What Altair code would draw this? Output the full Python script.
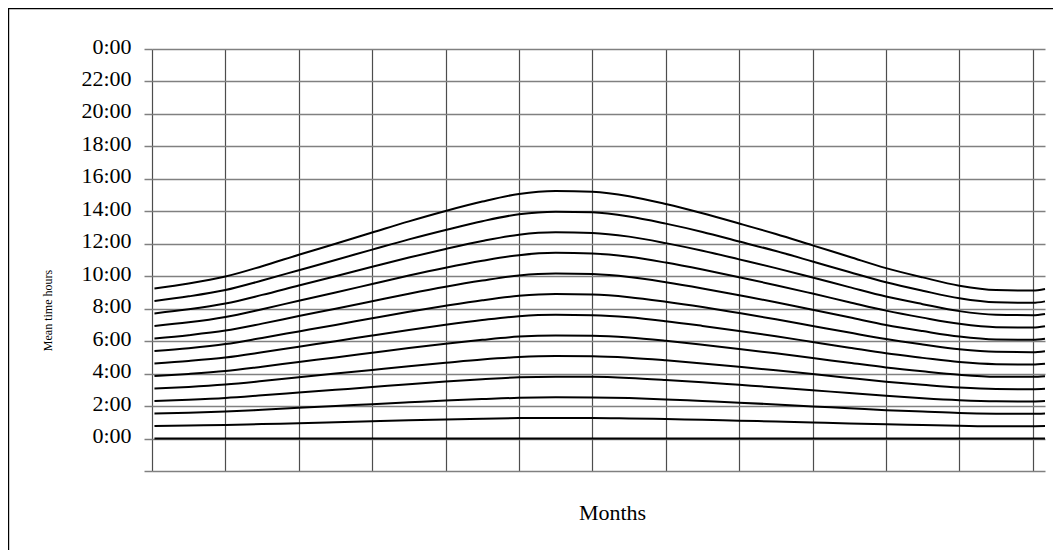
import altair as alt
import pandas as pd

# Day of year at which each curve was read
days = [1, 15, 30, 45, 60, 75, 90, 105, 120, 135, 150, 165, 180,
        195, 210, 225, 240, 255, 270, 285, 300, 315, 330, 345, 360, 365]

# Curves, bottom to top (hours)
c00 = [0.0] * 26
c01 = [0.77, 0.80, 0.83, 0.89, 0.94, 1.00, 1.06, 1.12, 1.17, 1.22, 1.26, 1.27, 1.27,
       1.24, 1.20, 1.16, 1.10, 1.05, 0.99, 0.93, 0.88, 0.83, 0.79, 0.76, 0.76, 0.77]
c02 = [1.54, 1.59, 1.66, 1.77, 1.89, 2.00, 2.12, 2.23, 2.34, 2.43, 2.51, 2.54, 2.53,
       2.49, 2.41, 2.31, 2.21, 2.10, 1.98, 1.87, 1.75, 1.66, 1.57, 1.53, 1.52, 1.54]
c03 = [2.31, 2.39, 2.50, 2.66, 2.83, 3.00, 3.17, 3.35, 3.51, 3.65, 3.77, 3.81, 3.80,
       3.73, 3.61, 3.47, 3.31, 3.15, 2.98, 2.80, 2.63, 2.48, 2.36, 2.29, 2.28, 2.31]
c04 = [3.08, 3.18, 3.33, 3.54, 3.77, 4.00, 4.23, 4.46, 4.67, 4.87, 5.02, 5.08, 5.07,
       4.98, 4.82, 4.63, 4.42, 4.20, 3.97, 3.73, 3.50, 3.31, 3.14, 3.05, 3.04, 3.07]
c05 = [3.85, 3.98, 4.16, 4.43, 4.72, 5.00, 5.29, 5.58, 5.84, 6.08, 6.28, 6.35, 6.33,
       6.22, 6.02, 5.78, 5.52, 5.25, 4.96, 4.67, 4.38, 4.14, 3.93, 3.81, 3.80, 3.84]
c06 = [4.63, 4.78, 4.99, 5.31, 5.66, 6.00, 6.35, 6.69, 7.01, 7.30, 7.54, 7.63, 7.60,
       7.47, 7.23, 6.94, 6.63, 6.30, 5.95, 5.60, 5.25, 4.97, 4.71, 4.58, 4.56, 4.61]
c07 = [5.40, 5.57, 5.82, 6.20, 6.60, 7.00, 7.41, 7.81, 8.18, 8.52, 8.79, 8.90, 8.87,
       8.71, 8.43, 8.10, 7.73, 7.35, 6.94, 6.53, 6.13, 5.80, 5.50, 5.34, 5.32, 5.38]
c08 = [6.17, 6.37, 6.65, 7.08, 7.55, 8.00, 8.46, 8.92, 9.35, 9.73, 10.05, 10.17, 10.13,
       9.95, 9.63, 9.25, 8.83, 8.40, 7.93, 7.47, 7.00, 6.62, 6.28, 6.10, 6.08, 6.15]
c09 = [6.94, 7.16, 7.49, 7.97, 8.49, 9.00, 9.52, 10.04, 10.52, 10.95, 11.30, 11.44, 11.40,
       11.20, 10.84, 10.41, 9.94, 9.45, 8.93, 8.40, 7.88, 7.45, 7.07, 6.86, 6.84, 6.92]
c10 = [7.71, 7.96, 8.32, 8.85, 9.43, 10.00, 10.58, 11.15, 11.68, 12.17, 12.56, 12.71, 12.67,
       12.44, 12.04, 11.57, 11.04, 10.50, 9.92, 9.33, 8.75, 8.28, 7.85, 7.63, 7.60, 7.68]
c11 = [8.48, 8.76, 9.15, 9.74, 10.37, 11.00, 11.64, 12.27, 12.85, 13.39, 13.82, 13.98, 13.94,
       13.68, 13.24, 12.73, 12.14, 11.55, 10.91, 10.26, 9.63, 9.11, 8.64, 8.39, 8.36, 8.45]
c12 = [9.25, 9.55, 9.98, 10.62, 11.32, 12.00, 12.69, 13.38, 14.02, 14.60, 15.07, 15.25, 15.20,
       14.93, 14.45, 13.88, 13.25, 12.60, 11.90, 11.20, 10.50, 9.93, 9.42, 9.15, 9.12, 9.22]

curves = [c00, c01, c02, c03, c04, c05, c06, c07, c08, c09, c10, c11, c12]

month_ticks = [0, 30, 60, 90, 120, 150, 180, 210, 240, 270, 300, 330, 360]
hour_ticks = [-2, 0, 2, 4, 6, 8, 10, 12, 14, 16, 18, 20, 22, 24]

rows = []
for i, c in enumerate(curves):
    for d, v in zip(days, c):
        rows.append({"day": d, "hours": v, "curve": i})
df = pd.DataFrame(rows)

W, H = 893, 422

lines = alt.Chart(df).mark_line(color="black", strokeWidth=2, interpolate="monotone").encode(
    x=alt.X("day:Q",
            scale=alt.Scale(domain=[0, 365], nice=False, zero=False),
            axis=alt.Axis(values=month_ticks, labels=False, ticks=False, domain=False,
                          grid=True, gridColor="#4d4d4d", gridWidth=1.2,
                          title="Months", titleFont="Liberation Serif", titleFontSize=22,
                          titleFontWeight="normal", titleColor="black",
                          titleX=460, titleY=48, titleBaseline="alphabetic",
                          titleAlign="center")),
    y=alt.Y("hours:Q",
            scale=alt.Scale(domain=[-2, 24], nice=False, zero=False),
            axis=alt.Axis(values=hour_ticks, domain=False, grid=True,
                          gridColor="#808080", gridWidth=1.5,
                          ticks=True, tickSize=8, tickColor="#808080", tickWidth=1.5,
                          labelExpr="datum.value == 24 ? '0:00' : (datum.value < 0 ? '' : datum.value + ':00')",
                          labelFont="Liberation Serif", labelFontSize=22, labelColor="black",
                          labelPadding=13, labelOffset=-3,
                          title="Mean time hours", titleFont="Liberation Serif",
                          titleFontSize=12, titleFontWeight="normal", titleColor="black",
                          titleX=-105, titleY=261, titleAngle=270,
                          titleAlign="center", titleBaseline="middle")),
    detail="curve:N",
)

border = alt.Chart(pd.DataFrame({"a": [0]})).mark_rect(
    fill="transparent", stroke="black", strokeWidth=1.2
).encode(
    x=alt.value(-143.4), x2=alt.value(W + 30),
    y=alt.value(-40.4), y2=alt.value(H + 120),
)

chart = alt.layer(lines, border).properties(
    width=W, height=H,
    autosize=alt.AutoSizeParams(type="none"),
    padding={"left": 144, "top": 41, "right": 8, "bottom": 79},
).configure_view(stroke=None)

chart.save("out.html", embed_options={"renderer": "svg", "actions": False})
